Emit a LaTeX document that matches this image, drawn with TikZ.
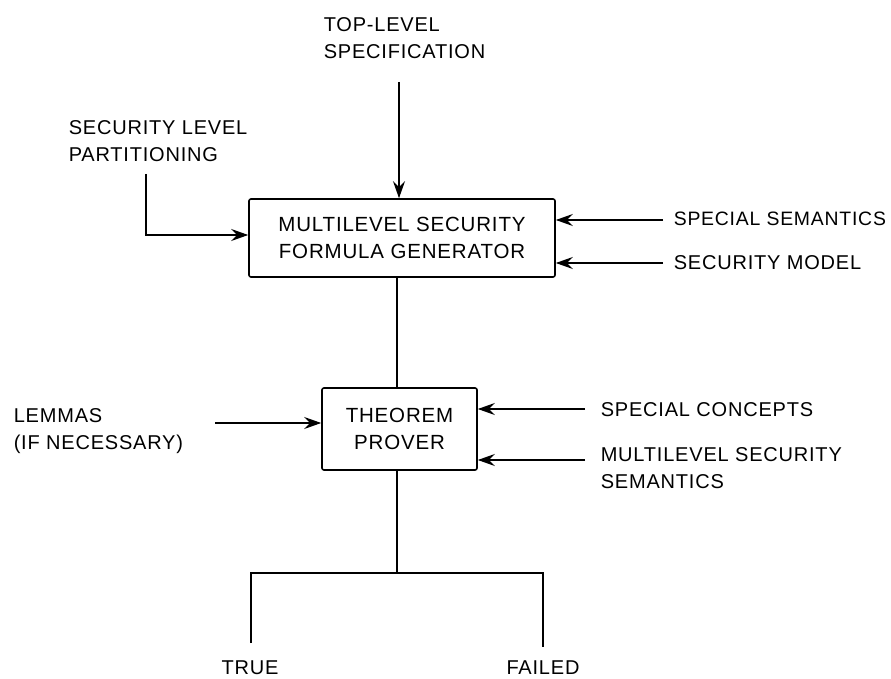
\documentclass[tikz,border=0pt]{standalone}
\usepackage{fontspec}
\setmainfont{Liberation Sans}[LetterSpace=4]
\usetikzlibrary{arrows.meta}
\begin{document}
\begin{tikzpicture}[x=1pt,y=-1pt,
  line width=1.6pt,
  lbl/.style={font=\fontsize{20}{27}\selectfont, inner sep=0pt, align=left},
  procbox/.style={draw, rounded corners=2pt, font=\fontsize{20.5}{27}\selectfont, align=center, inner sep=0pt},
  feed/.style={-{Stealth[length=17pt,width=12pt,inset=6pt]}}]
\useasboundingbox (0,0) rectangle (891,679);

% processing boxes
\node[procbox, minimum width=306pt, minimum height=78pt] (gen) at (402,238)
  {MULTILEVEL SECURITY\\FORMULA GENERATOR};
\node[procbox, minimum width=155pt, minimum height=82pt] (prover) at (399.5,429)
  {THEOREM\\PROVER};

% labels
\node[lbl, anchor=north west] (tls) at (323,17) {TOP-LEVEL\\SPECIFICATION};
\node[lbl, anchor=north west] (slp) at (68,120) {SECURITY LEVEL\\PARTITIONING};
\node[lbl, anchor=west, font=\fontsize{19.4}{27}\selectfont] (ss) at (673,219) {SPECIAL SEMANTICS};
\node[lbl, anchor=west] (sm) at (673,263) {SECURITY MODEL};
\node[lbl, anchor=north west] (lem) at (13,408) {LEMMAS\\(IF NECESSARY)};
\node[lbl, anchor=west] (sc) at (600,410) {SPECIAL CONCEPTS};
\node[lbl, anchor=north west] (mss) at (600,447) {MULTILEVEL SECURITY\\SEMANTICS};
\node[lbl, anchor=north] (true) at (250,660) {TRUE};
\node[lbl, anchor=north] (failed) at (543,660) {FAILED};

% connector end points
\coordinate (tlsE) at (399,82);
\coordinate (slpE) at (146,174);
\coordinate (ssE) at (663,220);
\coordinate (smE) at (663,263);
\coordinate (lemE) at (215,423);
\coordinate (scE) at (585,409);
\coordinate (mssE) at (585,460);
\coordinate (split) at (397,573);
\coordinate (trueE) at (251,643);
\coordinate (failedE) at (543,647);

% inputs to the formula generator
\draw[feed] (tlsE) -- (tlsE |- gen.north);
\draw[feed] (slpE) |- (gen.west |- 0,235);
\draw[feed] (ssE) -- (gen.east |- ssE);
\draw[feed] (smE) -- (gen.east |- smE);

% generator to prover
\draw (gen.south -| split) -- (prover.north -| split);

% inputs to the prover
\draw[feed] (lemE) -- (prover.west |- lemE);
\draw[feed] (scE) -- (prover.east |- scE);
\draw[feed] (mssE) -- (prover.east |- mssE);

% outcome branches
\draw (prover.south -| split) -- (split);
\draw (trueE) |- (split) -| (failedE);
\end{tikzpicture}
\end{document}
